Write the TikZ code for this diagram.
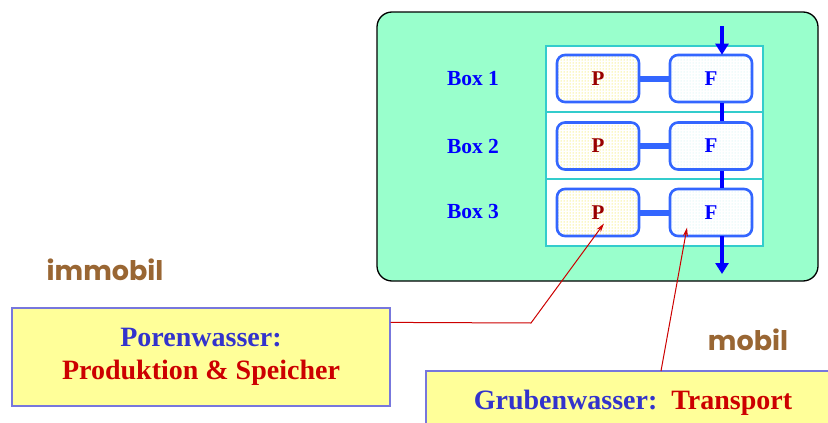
\documentclass[tikz,border=0pt]{standalone}
\usepackage{fontspec}
\setmainfont{Liberation Serif}
\newfontfamily\comicfont{Poppins}
\usetikzlibrary{patterns,arrows.meta,calc}
\definecolor{mint}{HTML}{99FFCC}
\definecolor{cellline}{HTML}{33CCCC}
\definecolor{boxblue}{HTML}{3366FF}
\definecolor{flowblue}{HTML}{0000FF}
\definecolor{pred}{HTML}{990000}
\definecolor{lblue}{HTML}{3333CC}
\definecolor{tred}{HTML}{CC0000}
\definecolor{brownish}{HTML}{996633}
\definecolor{notey}{HTML}{FFFF99}
\definecolor{noteline}{HTML}{7777DD}
\definecolor{dotyellow}{HTML}{F2E000}
\definecolor{dotcyan}{HTML}{BFEFEF}
\tikzset{
  cellbox/.style={draw=boxblue, line width=2.6pt, rounded corners=8pt,
    minimum width=82pt, minimum height=47pt, inner sep=0pt,
    font=\fontsize{21}{24}\selectfont\bfseries},
  pbox/.style={cellbox, preaction={fill=white}, pattern=dots, pattern color=dotyellow, text=pred},
  fbox/.style={cellbox, preaction={fill=white}, pattern=dots, pattern color=dotcyan, text=flowblue},
  boxlabel/.style={font=\fontsize{21.5}{24}\selectfont\bfseries, text=flowblue},
  hlink/.style={draw=boxblue, line width=6pt},
  vlink/.style={draw=flowblue, line width=4pt},
  flowarrow/.style={draw=flowblue, line width=4pt, -{Triangle[length=11pt,width=13pt]}},
  pointer/.style={draw=tred, line width=1pt, -{Stealth[length=9pt,width=5pt]}},
  note/.style={draw=noteline, line width=1.2pt, fill=notey},
  mob/.style={font=\comicfont\bfseries\fontsize{27}{30}\selectfont, text=brownish}
}
\begin{document}
\begin{tikzpicture}[x=1pt,y=-1pt]
\useasboundingbox (0,0) rectangle (828,423);
% green background
\draw[fill=mint, draw=black, line width=1.3pt, rounded corners=15pt] (377,12) rectangle (818,281);
% white cell table
\draw[fill=white, draw=cellline, line width=1.3pt] (546,46) rectangle (763,246);
\draw[draw=cellline, line width=1.3pt] (546,112) -- (763,112);
\draw[draw=cellline, line width=1.3pt] (546,179) -- (763,179);
% cells
\node[pbox] (p1) at (598,78.5) {P};
\node[fbox] (f1) at (711,78.5) {F};
\node[pbox] (p2) at (598,146) {P};
\node[fbox] (f2) at (711,146) {F};
\node[pbox] (p3) at (598,212.5) {P};
\node[fbox] (f3) at (711,212.5) {F};
\node[boxlabel] (l1) at (473,79) {Box 1};
\node[boxlabel] (l2) at (473,146) {Box 2};
\node[boxlabel] (l3) at (473,211) {Box 3};
% links
\draw[hlink] (p1.east) -- (f1.west);
\draw[hlink] (p2.east) -- (f2.west);
\draw[hlink] (p3.east) -- (f3.west);
\draw[vlink] ([xshift=11pt]f1.south) -- ([xshift=11pt]f2.north);
\draw[vlink] ([xshift=11pt]f2.south) -- ([xshift=11pt]f3.north);
\coordinate (inflow) at (722,26);
\coordinate (outflow) at (722,274);
\draw[flowarrow] (inflow) -- ([xshift=11pt,yshift=-1pt]f1.north);
\draw[flowarrow] ([xshift=11pt,yshift=1pt]f3.south) -- (outflow);
% labels
\node[mob] (immob) at (105,270) {immobil};
\node[mob] (mob) at (748,340) {mobil};
% notes
\node[note, minimum width=378pt, minimum height=98pt, align=center,
  font=\fontsize{28}{33}\selectfont\bfseries] (n1) at (201,357)
  {\textcolor{lblue}{Porenwasser:}\\\textcolor{tred}{Produktion \& Speicher}};
\draw[note] (426,371) rectangle (845,445);
\node[font=\fontsize{28}{33}\selectfont\bfseries, anchor=base] (n2) at (633,409)
  {\textcolor{lblue}{Grubenwasser:}\hspace{0.5em}\textcolor{tred}{Transport}};
% pointers
\coordinate (s1) at ($(n1.north east)+(0,15)$);
\coordinate (k1) at (531,323);
\coordinate (s2) at (661,371);
\draw[pointer] (s1) -- (k1) -- ($(p3.center)+(6,11)$);
\draw[pointer] (s2) -- ($(f3.center)+(-24,15)$);
\end{tikzpicture}
\end{document}
